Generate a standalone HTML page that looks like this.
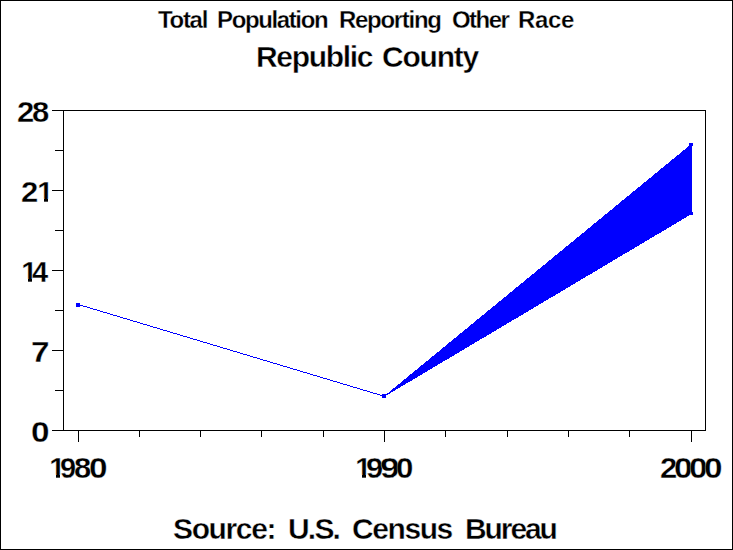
<!DOCTYPE html>
<html>
<head>
<meta charset="utf-8">
<style>
html,body{margin:0;padding:0;background:#fff;}
#c{position:relative;width:733px;height:550px;overflow:hidden;background:#fff;}
svg{position:absolute;left:0;top:0;}
text{font-family:"Liberation Sans",Arial,sans-serif;fill:#000;}
</style>
</head>
<body>
<div id="c">
<svg width="733" height="550" viewBox="0 0 733 550">
  <defs>
  <clipPath id="c_y21b"><rect x="35.25" y="176" width="17.40" height="23.04"/><rect x="44.02" y="176" width="3.98" height="27"/></clipPath>
  <clipPath id="c_y14a"><rect x="19.25" y="256" width="17.40" height="23.04"/><rect x="28.02" y="256" width="3.98" height="27"/></clipPath>
  <clipPath id="c_x80a"><rect x="47.25" y="452" width="17.40" height="23.04"/><rect x="56.02" y="452" width="3.98" height="27"/></clipPath>
  <clipPath id="c_x90a"><rect x="353.25" y="452" width="17.40" height="23.04"/><rect x="362.02" y="452" width="3.98" height="27"/></clipPath>
  </defs>
  <g id="lines">
  <rect x="0.5" y="0.5" width="732" height="549" fill="none" stroke="#000" stroke-width="1" shape-rendering="crispEdges"/>
  <g stroke="#000" stroke-width="1" fill="none" shape-rendering="crispEdges">
    <rect x="63.5" y="110.5" width="642" height="320"/>
    <path d="M52 110.5H63M52 190.5H63M52 270.5H63M52 350.5H63M52 430.5H63"/>
    <path d="M55 150.5H63M55 230.5H63M55 310.5H63M55 390.5H63"/>
    <path d="M78.5 431V442M384.5 431V442M691.5 431V442"/>
    <path d="M139.5 431V437M200.5 431V437M261.5 431V437M323.5 431V437M445.5 431V437M507.5 431V437M568.5 431V437M629.5 431V437"/>
  </g>
  <g fill="#0000ff" shape-rendering="crispEdges">
    <rect x="76" y="303" width="4" height="4"/>
    <rect x="382" y="394" width="4" height="4"/>
    <rect x="689" y="143" width="4" height="3"/>
    <rect x="689" y="212" width="4" height="3"/>
  </g>
  <polygon points="384.5,396.5 691.5,144.5 691.5,213.5 384.5,396" fill="#0000ff" stroke="#0000ff" stroke-width="1" stroke-linejoin="miter" shape-rendering="crispEdges"/>
  <line x1="78.5" y1="304.55" x2="384.5" y2="396.35" stroke="#0000ff" stroke-width="1" shape-rendering="crispEdges"/>
  </g>
  <g id="texts">
  <text id="w1" x="158.00" y="28" font-size="24" font-weight="bold" stroke="#fff" stroke-width="0.3" textLength="50.33" lengthAdjust="spacing">Total</text>
  <text id="w2" x="217.00" y="28" font-size="24" font-weight="bold" stroke="#fff" stroke-width="0.3" textLength="111.59" lengthAdjust="spacing">Population</text>
  <text id="w3" x="339.00" y="28" font-size="24" font-weight="bold" stroke="#fff" stroke-width="0.3" textLength="102.93" lengthAdjust="spacing">Reporting</text>
  <text id="w4" x="452.00" y="28" font-size="24" font-weight="bold" stroke="#fff" stroke-width="0.3" textLength="57.82" lengthAdjust="spacing">Other</text>
  <text id="w5" x="518.00" y="28" font-size="24" font-weight="bold" stroke="#fff" stroke-width="0.3" textLength="56.31" lengthAdjust="spacing">Race</text>
  <text id="r1" x="256.00" y="67" font-size="30" font-weight="bold" stroke="#fff" stroke-width="0.4" textLength="117.51" lengthAdjust="spacing">Republic</text>
  <text id="r2" x="382.00" y="67" font-size="30" font-weight="bold" stroke="#fff" stroke-width="0.4" textLength="97.29" lengthAdjust="spacing">County</text>
  <text id="s1" x="173.00" y="539" font-size="30" font-weight="bold" stroke="#fff" stroke-width="0.4" textLength="103.48" lengthAdjust="spacing">Source:</text>
  <text id="s2" x="288.00" y="539" font-size="30" font-weight="bold" stroke="#fff" stroke-width="0.4" textLength="52.96" lengthAdjust="spacing">U.S.</text>
  <text id="s3" x="352.00" y="539" font-size="30" font-weight="bold" stroke="#fff" stroke-width="0.4" textLength="101.23" lengthAdjust="spacing">Census</text>
  <text id="s4" x="465.00" y="539" font-size="30" font-weight="bold" stroke="#fff" stroke-width="0.4" textLength="92.92" lengthAdjust="spacing">Bureau</text>
  <text id="y28a" x="17.00" y="122" font-size="29" font-weight="bold" stroke="#fff" stroke-width="0.3" textLength="17.29" lengthAdjust="spacingAndGlyphs">2</text>
  <text id="y28b" x="32.00" y="122" font-size="29" font-weight="bold" stroke="#fff" stroke-width="0.3" textLength="17.29" lengthAdjust="spacingAndGlyphs">8</text>
  <text id="y21a" x="21.00" y="202" font-size="29" font-weight="bold" stroke="#fff" stroke-width="0.3" textLength="17.29" lengthAdjust="spacingAndGlyphs">2</text>
  <text id="y21b" x="37.25" y="202" font-size="29" font-weight="bold" clip-path="url(#c_y21b)" stroke="#fff" stroke-width="0.3">1</text>
  <text id="y14a" x="21.25" y="282" font-size="29" font-weight="bold" clip-path="url(#c_y14a)" stroke="#fff" stroke-width="0.3">1</text>
  <text id="y14b" x="32.00" y="282" font-size="29" font-weight="bold" stroke="#fff" stroke-width="0.3" textLength="16.21" lengthAdjust="spacingAndGlyphs">4</text>
  <text id="y7" x="31.00" y="362" font-size="29" font-weight="bold" stroke="#fff" stroke-width="0.3" textLength="18.53" lengthAdjust="spacingAndGlyphs">7</text>
  <text id="y0" x="31.00" y="442" font-size="29" font-weight="bold" stroke="#fff" stroke-width="0.3" textLength="18.53" lengthAdjust="spacingAndGlyphs">0</text>
  <text id="x80a" x="49.25" y="478" font-size="29" font-weight="bold" clip-path="url(#c_x80a)" stroke="#fff" stroke-width="0.3">1</text>
  <text id="x80b" x="60.00" y="478" font-size="29" font-weight="bold" stroke="#fff" stroke-width="0.3" textLength="16.14" lengthAdjust="spacingAndGlyphs">9</text>
  <text id="x80c" x="74.00" y="478" font-size="29" font-weight="bold" stroke="#fff" stroke-width="0.3" textLength="17.29" lengthAdjust="spacingAndGlyphs">8</text>
  <text id="x80d" x="89.00" y="478" font-size="29" font-weight="bold" stroke="#fff" stroke-width="0.3" textLength="18.53" lengthAdjust="spacingAndGlyphs">0</text>
  <text id="x90a" x="355.25" y="478" font-size="29" font-weight="bold" clip-path="url(#c_x90a)" stroke="#fff" stroke-width="0.3">1</text>
  <text id="x90b" x="366.00" y="478" font-size="29" font-weight="bold" stroke="#fff" stroke-width="0.3" textLength="17.37" lengthAdjust="spacingAndGlyphs">9</text>
  <text id="x90c" x="380.00" y="478" font-size="29" font-weight="bold" stroke="#fff" stroke-width="0.3" textLength="19.68" lengthAdjust="spacingAndGlyphs">9</text>
  <text id="x90d" x="396.00" y="478" font-size="29" font-weight="bold" stroke="#fff" stroke-width="0.3" textLength="17.38" lengthAdjust="spacingAndGlyphs">0</text>
  <text id="x00a" x="660.00" y="478" font-size="29" font-weight="bold" stroke="#fff" stroke-width="0.3" textLength="17.29" lengthAdjust="spacingAndGlyphs">2</text>
  <text id="x00b" x="674.00" y="478" font-size="29" font-weight="bold" stroke="#fff" stroke-width="0.3" textLength="18.53" lengthAdjust="spacingAndGlyphs">0</text>
  <text id="x00c" x="689.00" y="478" font-size="29" font-weight="bold" stroke="#fff" stroke-width="0.3" textLength="18.53" lengthAdjust="spacingAndGlyphs">0</text>
  <text id="x00d" x="704.00" y="478" font-size="29" font-weight="bold" stroke="#fff" stroke-width="0.3" textLength="18.53" lengthAdjust="spacingAndGlyphs">0</text>
  </g>
</svg>
</div>
</body>
</html>
